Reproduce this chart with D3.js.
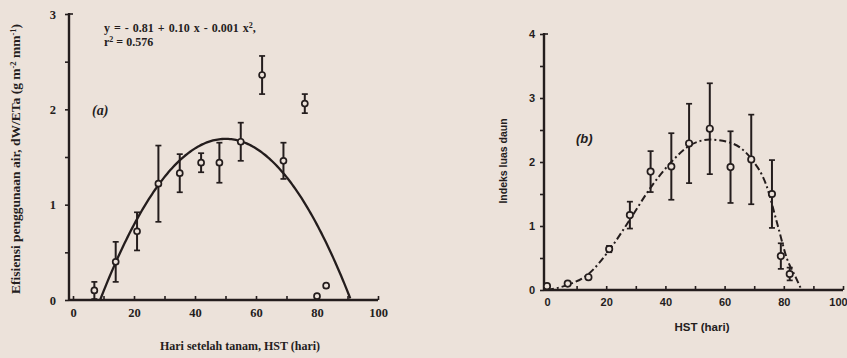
<!DOCTYPE html>
<html>
<head>
<meta charset="utf-8">
<script src="https://cdn.jsdelivr.net/npm/d3@7"></script>
<style>
  body { margin: 0; background: #ece2da; }
  svg { display: block; }
  text { fill: #241d1d; }
</style>
</head>
<body>
<script>
// panel (a): water use efficiency
var daysA = [7, 14, 21, 28, 35, 42, 48, 55, 62, 69, 76, 80, 83];
var wueA  = [0.1, 0.4, 0.72, 1.22, 1.33, 1.44, 1.44, 1.66, 2.36, 1.46, 2.06, 0.04, 0.15];
var errA  = [0.09, 0.21, 0.2, 0.4, 0.2, 0.1, 0.21, 0.2, 0.2, 0.19, 0.1, 0, 0];
var fitCoefA = [-0.81, 0.10, -0.001];   // from the printed equation
var fitRootsA = [8.9, 91.1];

// panel (b): leaf area index
var daysB = [0, 7, 14, 21, 28, 35, 42, 48, 55, 62, 69, 76, 79, 82];
var laiB  = [0.06, 0.1, 0.2, 0.64, 1.17, 1.85, 1.93, 2.29, 2.52, 1.92, 2.04, 1.5, 0.53, 0.25];
var errB  = [0, 0, 0, 0.05, 0.21, 0.32, 0.52, 0.62, 0.71, 0.56, 0.7, 0.53, 0.2, 0.1];
var curveDaysB = [0, 7, 14, 21, 28, 35, 42, 48, 55, 62, 69, 74, 78, 81, 84, 86];
var curveLaiB  = [0, 0.08, 0.25, 0.62, 1.1, 1.6, 2.0, 2.25, 2.35, 2.3, 2.05, 1.65, 1.0, 0.5, 0.2, 0];

var ticksX = [0, 20, 40, 60, 80, 100];
var ticksYA = [0, 1, 2, 3];
var ticksYB = [0, 1, 2, 3, 4];

var ink = '#241d1d';
var bg = '#ece2da';

var svg = d3.select('body').append('svg')
  .attr('width', 847)
  .attr('height', 358);

svg.append('rect').attr('width', 847).attr('height', 358).attr('fill', bg);

var drawAxes = function(g, x, y, yAxisX, xTicks, yTicks, yMinor, font, fsize, ypad) {
  var xAxis = g.append('g')
    .attr('transform', 'translate(0,' + y.range()[0] + ')')
    .call(d3.axisBottom(x).tickValues(d3.range(0, 101, 10)).tickSizeInner(-4).tickSizeOuter(0).tickPadding(8)
      .tickFormat(function(d) { return xTicks.indexOf(d) >= 0 ? d : ''; }));
  xAxis.select('.domain').remove();
  xAxis.append('line')
    .attr('x1', yAxisX).attr('x2', x.range()[1])
    .attr('stroke', ink).attr('stroke-width', 2.4);

  var yAxis = g.append('g')
    .attr('transform', 'translate(' + yAxisX + ',0)')
    .call(d3.axisLeft(y).tickValues(yMinor).tickSizeInner(4).tickSizeOuter(0).tickPadding(ypad)
      .tickFormat(function(d) { return yTicks.indexOf(d) >= 0 ? d : ''; }));
  yAxis.select('.domain').remove();
  yAxis.append('line')
    .attr('y1', y.range()[0]).attr('y2', y.range()[1] - 1)
    .attr('stroke', ink).attr('stroke-width', 2.4);
  yAxis.append('line')
    .attr('x1', 0).attr('x2', 4)
    .attr('y1', y.range()[1]).attr('y2', y.range()[1])
    .attr('stroke', ink).attr('stroke-width', 1.6);

  g.selectAll('.tick line').attr('stroke', ink).attr('stroke-width', 1.6);
  g.selectAll('.tick text')
    .attr('fill', ink)
    .style('font-family', font)
    .style('font-weight', 'bold')
    .style('font-size', fsize);
};

var drawPoints = function(g, x, y, xs, ys, es, r) {
  xs.forEach(function(d, i) {
    if (es[i] > 0) {
      var top = y(ys[i] + es[i]);
      var bot = y(ys[i] - es[i]);
      g.append('line').attr('x1', x(d)).attr('x2', x(d)).attr('y1', top).attr('y2', bot)
        .attr('stroke', ink).attr('stroke-width', 2);
      [top, bot].forEach(function(v) {
        g.append('line').attr('x1', x(d) - 3).attr('x2', x(d) + 3).attr('y1', v).attr('y2', v)
          .attr('stroke', ink).attr('stroke-width', 1.7);
      });
    }
    g.append('circle')
      .attr('cx', x(d)).attr('cy', y(ys[i])).attr('r', r)
      .attr('fill', bg).attr('stroke', ink).attr('stroke-width', 1.7);
  });
};

// ---------- panel (a)
var gA = svg.append('g');
var xA = d3.scaleLinear().domain([0, 100]).range([73, 378]);
var yA = d3.scaleLinear().domain([0, 3]).range([300, 14]);
drawAxes(gA, xA, yA, 69, ticksX, ticksYA, d3.range(0, 3.01, 0.5), 'Liberation Serif', '12.5px', 9);

var fitPts = d3.range(fitRootsA[0], fitRootsA[1] + 0.01, 0.5).map(function(t) {
  var v = fitCoefA[0] + fitCoefA[1] * t + fitCoefA[2] * t * t;
  return [t, Math.max(0, v)];
});
gA.append('path')
  .datum(fitPts)
  .attr('fill', 'none').attr('stroke', ink).attr('stroke-width', 2.3)
  .attr('d', d3.line().x(function(d) { return xA(d[0]); }).y(function(d) { return yA(d[1]); }));

drawPoints(gA, xA, yA, daysA, wueA, errA, 3);

gA.append('text').attr('x', 104).attr('y', 32)
  .style('font-family', 'Liberation Serif').style('font-weight', 'bold').style('font-size', '12px')
  .style('word-spacing', '1px')
  .html('y = - 0.81 + 0.10 x - 0.001 x<tspan dy="-4" font-size="8">2</tspan><tspan dy="4">,</tspan>');
gA.append('text').attr('x', 104).attr('y', 46)
  .style('font-family', 'Liberation Serif').style('font-weight', 'bold').style('font-size', '12px')
  .html('r<tspan dy="-4" font-size="8">2</tspan><tspan dy="4"> = 0.576</tspan>');
gA.append('text').attr('x', 92).attr('y', 115)
  .style('font-family', 'Liberation Serif').style('font-weight', 'bold').style('font-style', 'italic').style('font-size', '14px')
  .text('(a)');
gA.append('text').attr('x', 240).attr('y', 350).attr('text-anchor', 'middle')
  .style('font-family', 'Liberation Serif').style('font-weight', 'bold').style('font-size', '12px')
  .text('Hari setelah tanam, HST (hari)');
gA.append('text')
  .attr('transform', 'translate(20,159) rotate(-90)').attr('text-anchor', 'middle')
  .style('font-family', 'Liberation Serif').style('font-weight', 'bold').style('font-size', '13.5px')
  .html('Efisiensi penggunaan air, dW/ETa (g m<tspan dy="-4" font-size="8.5">-2</tspan><tspan dy="4"> mm</tspan><tspan dy="-4" font-size="8.5">-1</tspan><tspan dy="4">)</tspan>');

// ---------- panel (b)
var gB = svg.append('g');
var xB = d3.scaleLinear().domain([0, 100]).range([547, 843]);
var yB = d3.scaleLinear().domain([0, 4]).range([290, 34]);
drawAxes(gB, xB, yB, 544, ticksX, ticksYB, d3.range(0, 4.01, 0.5), 'Liberation Sans', '11px', 5);
// last label sits at the page edge; nudge it inside
gB.selectAll('.tick text').filter(function(d) { return d === 100; }).attr('dx', -5);

gB.append('path')
  .datum(curveDaysB.map(function(d, i) { return [d, curveLaiB[i]]; }))
  .attr('fill', 'none').attr('stroke', ink).attr('stroke-width', 2)
  .attr('stroke-dasharray', '7,3,2,3')
  .attr('d', d3.line().curve(d3.curveMonotoneX)
    .x(function(d) { return xB(d[0]); }).y(function(d) { return yB(d[1]); }));

drawPoints(gB, xB, yB, daysB, laiB, errB, 3.2);

gB.append('text').attr('x', 576).attr('y', 143)
  .style('font-family', 'Liberation Sans').style('font-weight', 'bold').style('font-style', 'italic').style('font-size', '13px')
  .text('(b)');
gB.append('text').attr('x', 702).attr('y', 331).attr('text-anchor', 'middle')
  .style('font-family', 'Liberation Sans').style('font-weight', 'bold').style('font-size', '11.5px')
  .text('HST (hari)');
gB.append('text')
  .attr('transform', 'translate(507,161) rotate(-90)').attr('text-anchor', 'middle')
  .style('font-family', 'Liberation Sans').style('font-weight', 'bold').style('font-size', '10.5px')
  .text('Indeks luas daun');
</script>
</body>
</html>
